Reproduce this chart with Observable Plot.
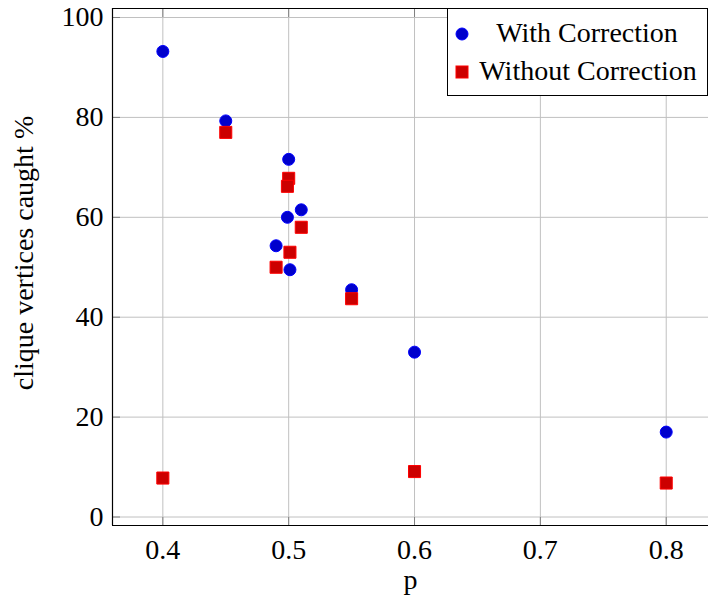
<!DOCTYPE html>
<html>
<head>
<meta charset="utf-8">
<script src="https://cdn.jsdelivr.net/npm/d3@7"></script>
<script src="https://cdn.jsdelivr.net/npm/@observablehq/plot@0.6"></script>
<style>
  html, body, div, span, svg, text, tspan { font-family: 'Liberation Serif', 'Times New Roman', serif !important; }
</style>
</head>
<body style="margin:0;font-family:'Liberation Serif', serif !important;font-size:28px;background:#fff">
<div id="wrap" style="position:relative;width:708px;height:596px;font-family:'Liberation Serif', serif !important;font-size:28px;color:#000">
  <div id="ylabel" style="position:absolute;left:24px;top:253px;transform:translate(-50%,-50%) rotate(-90deg);white-space:nowrap;line-height:1;font-family:'Liberation Serif', serif !important;font-size:28px">clique vertices caught %</div>
  <div id="legend" style="position:absolute;left:447px;top:8px;width:259px;height:86px;border:1px solid #000;background:#fff">
    <svg width="16" height="16" style="position:absolute;left:6px;top:17px"><circle cx="8" cy="8" r="6" fill="#0000cc" stroke="#0000ff"/></svg>
    <span id="leg0" style="position:absolute;left:139px;top:5px;transform:translateX(-50%);white-space:nowrap;line-height:38px;font-family:'Liberation Serif', serif !important;font-size:28px">With Correction</span>
    <svg width="16" height="16" style="position:absolute;left:6px;top:55px"><rect x="2" y="2" width="12" height="12" fill="#cc0000" stroke="#ff0000"/></svg>
    <span id="leg1" style="position:absolute;left:140px;top:43px;transform:translateX(-50%);white-space:nowrap;line-height:38px;font-family:'Liberation Serif', serif !important;font-size:28px">Without Correction</span>
  </div>
</div>
<script>
// Data
const pWith = [0.4, 0.45, 0.5, 0.51, 0.499, 0.49, 0.501, 0.55, 0.6, 0.8];
const withCorrection = [93.2, 79.3, 71.6, 61.5, 60.0, 54.3, 49.5, 45.5, 33.0, 17.0];
const pWithout = [0.4, 0.45, 0.5, 0.499, 0.51, 0.501, 0.49, 0.55, 0.6, 0.8];
const withoutCorrection = [7.8, 77.0, 67.8, 66.2, 58.0, 53.0, 50.0, 43.7, 9.1, 6.8];
const xTicks = [0.4, 0.5, 0.6, 0.7, 0.8];
const yTicks = [0, 20, 40, 60, 80, 100];
const seriesNames = ["With Correction", "Without Correction"];
const xLabel = "p";
const yLabel = "clique vertices caught %";

const withData = pWith.map((p, i) => ({p, v: withCorrection[i]}));
const withoutData = pWithout.map((p, i) => ({p, v: withoutCorrection[i]}));

const xDomain = [0.36, 0.8336];
const yDomain = [-1.7, 101.8];
const blueStroke = "#0000ff", blueFill = "#0000cc";
const redStroke = "#ff0000", redFill = "#cc0000";

document.getElementById("leg0").textContent = seriesNames[0];
document.getElementById("leg1").textContent = seriesNames[1];
document.getElementById("ylabel").textContent = yLabel;

const chart = Plot.plot({
  width: 708,
  height: 596,
  marginLeft: 112,
  marginRight: 0,
  marginTop: 8,
  marginBottom: 71,
  style: "font-family: 'Liberation Serif', serif !important; font-size: 28px; background: transparent; position: absolute; left: 0px; top: 0px; max-width: none;",
  x: {domain: xDomain, ticks: xTicks},
  y: {domain: yDomain, ticks: yTicks},
  marks: [
    Plot.gridX(xTicks, {stroke: "#c0c0c0", strokeOpacity: 1, strokeWidth: 1}),
    Plot.gridY(yTicks, {stroke: "#c0c0c0", strokeOpacity: 1, strokeWidth: 1}),
    // inner ticks on all sides
    Plot.axisX(xTicks, {anchor: "bottom", tickSize: -8, text: null, stroke: "#808080", label: null}),
    Plot.axisX(xTicks, {anchor: "top", tickSize: -8, text: null, stroke: "#808080", label: null}),
    Plot.axisY(yTicks, {anchor: "left", tickSize: -8, text: null, stroke: "#808080", label: null}),
    // tick labels
    Plot.axisX(xTicks, {anchor: "bottom", tickSize: 0, tickPadding: 14, fontSize: 28, tickFormat: d3.format(".1f"), label: null}),
    Plot.axisY(yTicks, {anchor: "left", tickSize: 0, tickPadding: 9, fontSize: 28, label: null}),
    // axis box (left, bottom, top; right edge lies outside the picture)
    Plot.ruleX([xDomain[0]], {stroke: "#000", strokeWidth: 1.2}),
    Plot.ruleY(yDomain, {stroke: "#000", strokeWidth: 1.2}),
    Plot.dot(withData, {x: "p", y: "v", r: 6, symbol: "circle", fill: blueFill, stroke: blueStroke, strokeWidth: 1}),
    Plot.dot(withoutData, {x: "p", y: "v", r: 6.8, symbol: "square", fill: redFill, stroke: redStroke, strokeWidth: 1}),
    // x axis title
    Plot.text([xLabel], {frameAnchor: "bottom", text: d => d, dy: 55, fontSize: 28, textAnchor: "middle", lineAnchor: "middle"})
  ]
});

chart.style.maxWidth = "none";
chart.querySelectorAll("text").forEach(t => t.style.setProperty("font-family", "'Liberation Serif', serif", "important"));
const wrap = document.getElementById("wrap");
wrap.insertBefore(chart, wrap.firstChild);
</script>
</body>
</html>
